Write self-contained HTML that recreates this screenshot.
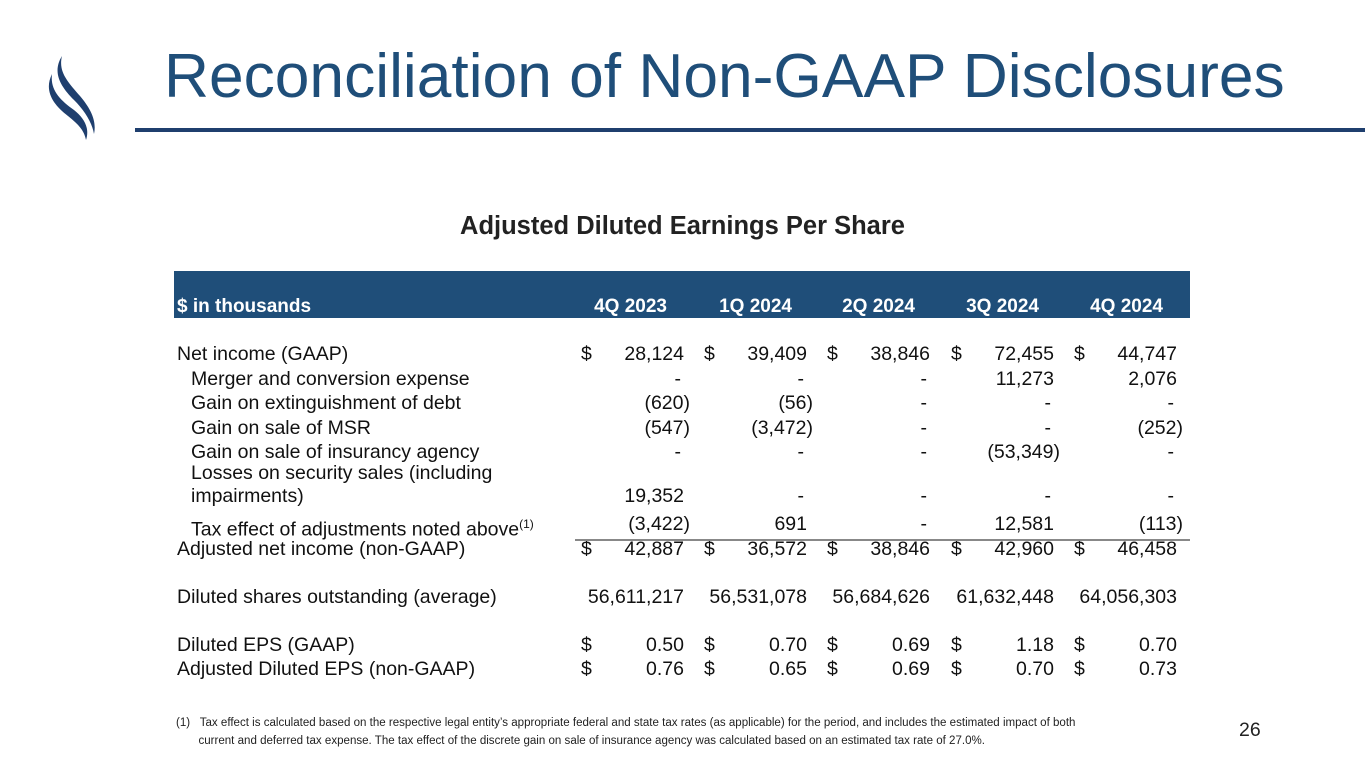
<!DOCTYPE html>
<html><head><meta charset="utf-8">
<style>
body{margin:0;width:1365px;height:768px;background:#fff;position:relative;overflow:hidden;font-family:"Liberation Sans",Arial,sans-serif;color:#000}
.a{position:absolute;white-space:nowrap}
.t{font-size:19.5px;line-height:20px}
.r{text-align:right}
</style></head><body>
<svg class="a" style="left:40px;top:50px" width="70" height="95" viewBox="0 0 70 95">
<path d="M22 6 C12 22,20 36,34 50 C44 60,52 72,54 84 C57 70,50 58,40 46 C28 32,18 22,22 6 Z" fill="#1f3f6e"/>
<path d="M12 24 C4 40,12 54,28 66 C38 74,44 80,46 90 C50 78,44 68,34 60 C20 50,10 40,12 24 Z" fill="#1f3f6e"/>
</svg>
<div class="a" style="left:164px;top:40px;font-size:62.3px;line-height:74px;color:#1f4e79">Reconciliation of Non-GAAP Disclosures</div>
<div class="a" style="left:135px;top:128px;width:1230px;height:4px;background:#1f3f6e"></div>
<div class="a" style="left:0;width:1365px;text-align:center;top:211px;font-size:21.5px;line-height:30px;font-weight:bold;color:#222"><span style="font-size:25.5px;font-weight:bold">Adjusted Diluted Earnings Per Share</span></div>
<div class="a" style="left:174px;top:271px;width:1016px;height:47px;background:#1f4e79"></div>
<div class="a t" style="left:177px;top:297px;color:#fff;font-weight:bold;font-size:19px">$ in thousands</div>
<div id="tbl"></div>
<div class="a" style="left:575px;top:539px;width:615px;height:2px;background:#888"></div>
<div class="a" style="left:176px;top:714px;font-size:11.55px;line-height:18px;color:#222">(1)&nbsp;&nbsp;&nbsp;Tax effect is calculated based on the respective legal entity’s appropriate federal and state tax rates (as applicable) for the period, and includes the estimated impact of both<br>&nbsp;&nbsp;&nbsp;&nbsp;&nbsp;&nbsp;&nbsp;current and deferred tax expense. The tax effect of the discrete gain on sale of insurance agency was calculated based on an estimated tax rate of 27.0%.</div>
<div class="a" style="left:1239px;top:719px;font-size:19.5px;color:#222">26</div>
<script>
const periods=["4Q 2023","1Q 2024","2Q 2024","3Q 2024","4Q 2024"];
const labels=["Net income (GAAP)","Merger and conversion expense","Gain on extinguishment of debt","Gain on sale of MSR","Gain on sale of insurancy agency","Losses on security sales (including","impairments)","Tax effect of adjustments noted above<sup style='font-size:12px'>(1)</sup>","Adjusted net income (non-GAAP)","Diluted shares outstanding (average)","Diluted EPS (GAAP)","Adjusted Diluted EPS (non-GAAP)"];
const indents=[0,1,1,1,1,1,1,1,0,0,0,0];
const rowY=[344,369,393,418,442,463,486,514,539,587,635,659];
const dollars=[1,0,0,0,0,0,0,0,1,0,1,1];
const vals=[["28,124","39,409","38,846","72,455","44,747"],["-","-","-","11,273","2,076"],["(620)","(56)","-","-","-"],["(547)","(3,472)","-","-","(252)"],["-","-","-","(53,349)","-"],null,["19,352","-","-","-","-"],["(3,422)","691","-","12,581","(113)"],["42,887","36,572","38,846","42,960","46,458"],["56,611,217","56,531,078","56,684,626","61,632,448","64,056,303"],["0.50","0.70","0.69","1.18","0.70"],["0.76","0.65","0.69","0.70","0.73"]];
const colR=[684,807,930,1054,1177],colD=[581,704,827,951,1074],hdrR=[667,792,915,1039,1163];
const tb=document.getElementById('tbl');
periods.forEach((p,i)=>{const d=document.createElement('div');d.className='a t r';


d.style.cssText=`left:${hdrR[i]-140}px;width:140px;top:297px;color:#fff;font-weight:bold;font-size:19px`;d.textContent=p;tb.appendChild(d);});
labels.forEach((l,r)=>{const d=document.createElement('div');d.className='a t';


d.style.cssText=`left:${indents[r]?191:177}px;top:${rowY[r]}px;color:#111`;d.innerHTML=l;tb.appendChild(d);
if(!vals[r])return;
vals[r].forEach((v,c)=>{const e=document.createElement('div');e.className='a t r';


let rr=colR[c];if(v==='-')rr-=3;
e.style.cssText=`left:${(v.endsWith(')')?rr+6:rr)-160}px;width:160px;top:${rowY[r]}px;color:#111`;e.textContent=v;tb.appendChild(e);
if(dollars[r]){const s=document.createElement('div');s.className='a t';


s.style.cssText=`left:${colD[c]}px;top:${rowY[r]}px;color:#111`;s.textContent='$';tb.appendChild(s);}
});});
</script>
</body></html>
